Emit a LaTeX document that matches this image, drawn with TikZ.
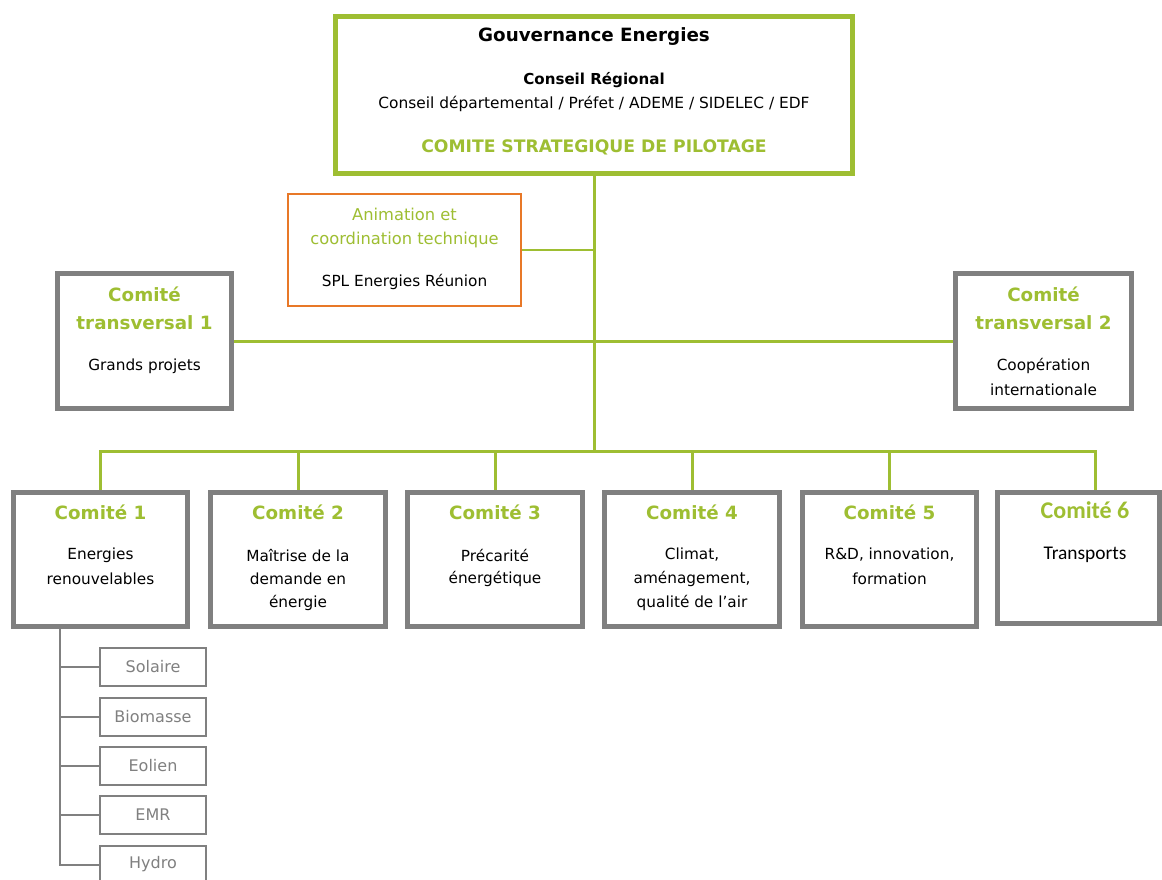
\documentclass[tikz,border=0pt]{standalone}
\usepackage{fontspec}
\setmainfont{DejaVu Sans}
\newfontfamily\calib{Carlito}
\definecolor{lgreen}{RGB}{158,190,50}
\definecolor{bgray}{RGB}{128,128,128}
\definecolor{borange}{RGB}{232,120,40}
\begin{document}
\begin{tikzpicture}[x=1pt,y=-1pt,
  box/.style={draw, rectangle, inner sep=0pt, fill=white},
  govbox/.style={box, draw=lgreen, line width=4.5pt},
  orbox/.style={box, draw=borange, line width=2pt},
  combox/.style={box, draw=bgray, line width=5pt},
  subbox/.style={box, draw=bgray, line width=2pt, minimum width=106pt, minimum height=38pt, text=bgray, font=\fontsize{16}{18}\selectfont},
  gline/.style={draw=lgreen, line width=3pt},
  gthin/.style={draw=lgreen, line width=2pt},
  grayline/.style={draw=bgray, line width=2pt},
  txt/.style={inner sep=0pt, font=\fontsize{15.3}{18}\selectfont, text=black},
  gtitle/.style={inner sep=0pt, font=\fontsize{18.3}{20}\selectfont\bfseries, text=lgreen},
  gtext/.style={inner sep=0pt, font=\fontsize{16.3}{18}\selectfont, text=lgreen},
]
\useasboundingbox (0,0) rectangle (1162,880);
\clip (0,0) rectangle (1162,880);

% boxes
\node[govbox, minimum width=517pt, minimum height=157pt] (gov) at (594,95) {};
\node[orbox, minimum width=233pt, minimum height=112pt] (anim) at (404.5,250) {};
\node[combox, minimum width=174pt, minimum height=135pt] (ct1) at (144.5,341) {};
\node[combox, minimum width=176pt, minimum height=135pt] (ct2) at (1043.5,341) {};

\node[combox, minimum width=174pt, minimum height=134pt] (c1) at (100.5,559.5) {};
\node[combox, minimum width=175pt, minimum height=134pt] (c2) at (298,559.5) {};
\node[combox, minimum width=175pt, minimum height=134pt] (c3) at (495,559.5) {};
\node[combox, minimum width=175pt, minimum height=134pt] (c4) at (692,559.5) {};
\node[combox, minimum width=174pt, minimum height=134pt] (c5) at (889.5,559.5) {};
\node[combox, minimum width=162pt, minimum height=131pt] (c6) at (1078.5,558) {};

% connectors
\coordinate (hub1) at (594,250);
\coordinate (bus) at (594,451);
\coordinate (busL) at (100.5,451);
\coordinate (busR) at (1095,451);
\coordinate (c6drop) at (1095,0|-c6.north);
\draw[gline] (gov.south) -- (bus);
\draw[gthin] (anim.east) -- (hub1);
\draw[gline] (ct1.east) -- (ct2.west);
\draw[gline] (c1.north) -- (busL) -- (busR) -- (c6drop);
\draw[gline] (298,451) -- (c2.north);
\draw[gline] (495,451) -- (c3.north);
\draw[gline] (692,451) -- (c4.north);
\draw[gline] (889.5,451) -- (c5.north);

% texts
\node[inner sep=0pt, font=\fontsize{18.3}{20}\selectfont\bfseries] (t0) at (594,37) {Gouvernance Energies};
\node[inner sep=0pt, font=\fontsize{15.1}{17}\selectfont\bfseries] (t1) at (594,80) {Conseil Régional};
\node[txt, font=\fontsize{15.4}{17}\selectfont] (t2) at (594,104) {Conseil départemental / Préfet / ADEME / SIDELEC / EDF};
\node[gtitle, font=\fontsize{17.2}{19}\selectfont\bfseries] (t3) at (594,147) {COMITE STRATEGIQUE DE PILOTAGE};

\node[gtext] (a1) at (404.5,214) {Animation et};
\node[gtext] (a2) at (404.5,240) {coordination technique};
\node[txt] (a3) at (404.5,282) {SPL Energies Réunion};

\node[gtitle] (ct1a) at (144.5,294) {Comité};
\node[gtitle] (ct1b) at (144.5,323) {transversal 1};
\node[txt] (ct1c) at (144.5,366) {Grands projets};

\node[gtitle] (ct2a) at (1043.5,294) {Comité};
\node[gtitle] (ct2b) at (1043.5,323) {transversal 2};
\node[txt] (ct2c) at (1043.5,366) {Coopération};
\node[txt] (ct2d) at (1043.5,390) {internationale};

\node[gtitle] (c1t) at (100.5,512) {Comité 1};
\node[txt] (c1a) at (100.5,555) {Energies};
\node[txt] (c1b) at (100.5,579) {renouvelables};

\node[gtitle] (c2t) at (298,512) {Comité 2};
\node[txt] (c2a) at (298,555) {Maîtrise de la};
\node[txt] (c2b) at (298,579) {demande en};
\node[txt] (c2c) at (298,603) {énergie};

\node[gtitle] (c3t) at (495,512) {Comité 3};
\node[txt] (c3a) at (495,555) {Précarité};
\node[txt] (c3b) at (495,579) {énergétique};

\node[gtitle] (c4t) at (692,512) {Comité 4};
\node[txt] (c4a) at (692,555) {Climat,};
\node[txt] (c4b) at (692,579) {aménagement,};
\node[txt] (c4c) at (692,603) {qualité de l’air};

\node[gtitle] (c5t) at (889.5,512) {Comité 5};
\node[txt] (c5a) at (889.5,555) {R\&D, innovation,};
\node[txt] (c5b) at (889.5,579) {formation};

\node[gtitle, font=\calib\fontsize{24}{26}\selectfont\bfseries] (c6t) at (1085,510) {Comité 6};
\node[txt, font=\calib\fontsize{19.4}{21}\selectfont] (c6a) at (1085,555) {Transports};

% sub-boxes
\node[subbox] (s1) at (153,667) {Solaire};
\node[subbox] (s2) at (153,716.5) {Biomasse};
\node[subbox] (s3) at (153,765.5) {Eolien};
\node[subbox] (s4) at (153,814.5) {EMR};
\node[subbox] (s5) at (153,864.5) {Hydro};
\coordinate (trunk) at (60,0|-c1.south);
\coordinate (trunkEnd) at (60,0|-s5.west);
\draw[grayline] (trunk) -- (trunkEnd) -- (s5.west);
\draw[grayline] (60,0|-s1.west) -- (s1.west);
\draw[grayline] (60,0|-s2.west) -- (s2.west);
\draw[grayline] (60,0|-s3.west) -- (s3.west);
\draw[grayline] (60,0|-s4.west) -- (s4.west);
\end{tikzpicture}
\end{document}
